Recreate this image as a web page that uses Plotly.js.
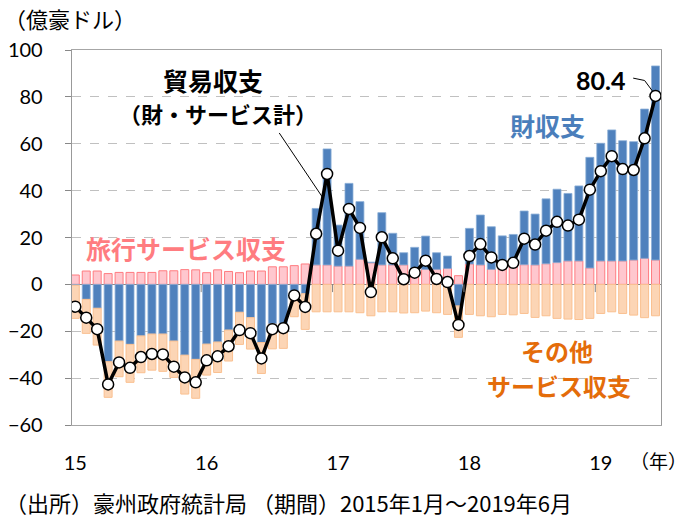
<!DOCTYPE html>
<html>
<head>
<meta charset="utf-8">
<script src="https://cdn.plot.ly/plotly-3.0.1.min.js"></script>
<style>
html,body{margin:0;padding:0;background:#fff;}
#chart{width:688px;height:517px;}
</style>
</head>
<body>
<div id="chart"></div>
<script>
// Monthly data, Jan 2015 - Jun 2019 (100 million AUD)
const months = Array.from({length: 54}, (_, i) => i);
const tickVals = [0, 12, 24, 36, 48];
const tickText = ['15', '16', '17', '18', '19'];

// 旅行サービス収支 (travel services)
const travel = [4.0, 5.7, 5.7, 4.6, 5.1, 5.1, 5.1, 5.1, 5.8, 5.8, 6.3, 6.2,
                5.0, 6.2, 5.5, 5.0, 5.7, 5.7, 7.5, 7.5, 8.0, 8.7, 8.3, 8.3,
                7.8, 7.8, 10.7, 9.2, 8.3, 8.3, 8.3, 6.8, 6.4, 6.4, 6.8, 3.7,
                8.7, 8.3, 6.4, 7.3, 7.8, 8.4, 8.3, 8.8, 9.3, 10.0, 10.0, 7.0,
                10.0, 10.0, 10.0, 10.4, 11.1, 10.4];
// 財収支 (goods)
const goods = [-0.4, -6.4, -10.2, -33.0, -24.2, -25.6, -22.0, -21.2, -21.2, -24.2, -30.2, -32.0,
               -25.5, -24.6, -19.5, -11.9, -14.2, -24.8, -17.0, -16.8, -3.8, -4.0, 24.1, 49.5,
               17.5, 35.3, 24.6, 0.3, 22.3, 13.5, 5.2, 9.0, 14.2, 7.1, 5.3, -9.2,
               15.2, 21.3, 18.2, 13.4, 13.5, 22.9, 21.7, 27.7, 31.3, 28.8, 32.0, 47.2,
               50.2, 55.9, 51.3, 50.5, 63.7, 82.8];
// その他サービス収支 (other services)
const other = [-14.1, -14.5, -15.7, -15.2, -15.2, -16.2, -15.7, -15.4, -15.9, -15.5, -16.6, -16.6,
               -13.2, -13.0, -13.2, -13.7, -13.4, -13.2, -10.5, -10.5, -10.0, -15.2, -11.7, -11.7,
               -11.7, -11.7, -12.1, -13.4, -11.7, -11.7, -12.2, -12.1, -11.4, -12.1, -12.8, -13.4,
               -12.8, -13.4, -13.8, -12.8, -13.0, -12.4, -14.1, -13.4, -14.5, -14.8, -15.0, -14.5,
               -12.4, -11.7, -12.4, -13.1, -14.2, -13.4];
// 貿易収支 (財・サービス計) (total)
const total = [-9.5, -14.2, -19.1, -42.7, -33.3, -35.6, -31.0, -29.7, -29.9, -35.1, -39.7, -41.8,
               -32.4, -30.7, -26.4, -19.5, -20.8, -31.6, -19.1, -18.7, -4.7, -9.6, 21.6, 47.1,
               14.4, 32.2, 24.1, -3.3, 20.1, 11.1, 2.2, 5.0, 10.1, 2.3, 1.0, -17.3,
               12.1, 17.2, 11.5, 8.3, 9.2, 19.5, 17.0, 22.9, 26.7, 25.1, 27.6, 40.4,
               48.3, 54.7, 49.2, 48.8, 62.3, 80.4];
const lastLabel = '80.4';

const JP = '"Noto Sans CJK JP", sans-serif';
const NUM = 'Lato, "Liberation Sans", sans-serif';

// pixel -> paper helpers (plot area: x 72..661, y 50..425)
const PL = 72, PW = 589, PT = 50, PH = 375;
const px = v => (v - PL) / PW;
const py = v => (PT + PH - v) / PH;

const traces = [
  {type: 'bar', x: months, y: travel, name: '旅行サービス収支',
   marker: {color: 'rgb(255,199,206)', line: {color: 'rgb(255,124,128)', width: 1}}},
  {type: 'bar', x: months, y: goods, name: '財収支',
   marker: {color: 'rgb(79,129,189)', line: {color: 'rgb(140,175,215)', width: 0.8}}},
  {type: 'bar', x: months, y: other, name: 'その他サービス収支',
   marker: {color: 'rgb(252,213,181)', line: {color: 'rgb(250,192,144)', width: 1}}},
  {type: 'scatter', mode: 'lines+markers', x: months, y: total, name: '貿易収支',
   line: {color: '#000', width: 3.5},
   marker: {size: 11, color: '#fff', line: {color: '#000', width: 1.5}}}
];

function ann(text, x, y, size, color, opts) {
  return Object.assign({
    text: text, xref: 'paper', yref: 'paper', x: px(x), y: py(y),
    xanchor: 'center', yanchor: 'middle', showarrow: false, borderpad: 0,
    font: {family: JP, size: size, color: color, weight: 'bold'}
  }, opts || {});
}

const annotations = [
  ann('貿易収支', 213, 80, 25, '#000'),
  ann('（財・サービス計）', 218, 113, 22, '#000'),
  ann('財収支', 547, 125, 25, 'rgb(74,126,187)'),
  ann('旅行サービス収支', 186, 248, 25, 'rgb(255,124,128)'),
  ann('その他', 557, 350, 24, 'rgb(228,108,10)'),
  ann('サービス収支', 559, 385, 24, 'rgb(228,108,10)'),
  ann(lastLabel, 600, 80, 25, '#000', {font: {family: NUM, size: 25, color: '#000', weight: 'bold'}}),
  ann('（億豪ドル）', 3, 18, 22, '#000', {xanchor: 'left', font: {family: JP, size: 22, color: '#000'}}),
  ann('（年）', 688, 460, 19, '#000', {xanchor: 'right', font: {family: JP, size: 19, color: '#000'}}),
  ann('（出所）豪州政府統計局 （期間）2015年1月～2019年6月', 4, 502, 22, '#000',
      {xanchor: 'left', font: {family: JP, size: 22, color: '#000'}})
];

const shapes = [];
[11.5, 23.5, 35.5, 47.5].forEach(b => shapes.push({
  type: 'line', xref: 'x', yref: 'y', x0: b, x1: b, y0: 0, y1: -3.3,
  line: {color: '#888', width: 1}
}));
shapes.push({type: 'line', xref: 'x', yref: 'y', x0: 18.63, y0: 64.6, x1: 22.56, y1: 37.3,
             line: {color: '#000', width: 1}});
shapes.push({type: 'path', xref: 'x', yref: 'y',
             path: 'M 50.96,88.0 L 52.0,87.0 L 52.75,82.3',
             line: {color: '#000', width: 1}});

const layout = {
  width: 688, height: 517,
  margin: {l: PL, r: 688 - PL - PW, t: PT, b: 517 - PT - PH, pad: 0},
  paper_bgcolor: '#fff', plot_bgcolor: '#fff',
  barmode: 'relative', bargap: 0.27,
  showlegend: false,
  xaxis: {
    range: [-0.3, 53.5], tickvals: tickVals, ticktext: tickText,
    ticks: '', showgrid: false, zeroline: false,
    showline: true, mirror: true, linecolor: '#a6a6a6', linewidth: 1.3,
    tickfont: {family: NUM, size: 20, color: '#000'}, ticklabelstandoff: 20
  },
  yaxis: {
    range: [-60, 100], dtick: 20, tick0: 0,
    ticks: 'outside', ticklen: 6, tickcolor: '#888', tickwidth: 1,
    showgrid: true, gridcolor: '#c0c0c0', griddash: 'dash', gridwidth: 1,
    zeroline: true, zerolinecolor: '#888', zerolinewidth: 1.5,
    showline: true, mirror: true, linecolor: '#999', linewidth: 1.3,
    tickfont: {family: NUM, size: 20, color: '#000'}, ticklabelstandoff: 18
  },
  annotations: annotations,
  shapes: shapes
};

Plotly.newPlot('chart', traces, layout, {displayModeBar: false, staticPlot: true});
</script>
</body>
</html>
